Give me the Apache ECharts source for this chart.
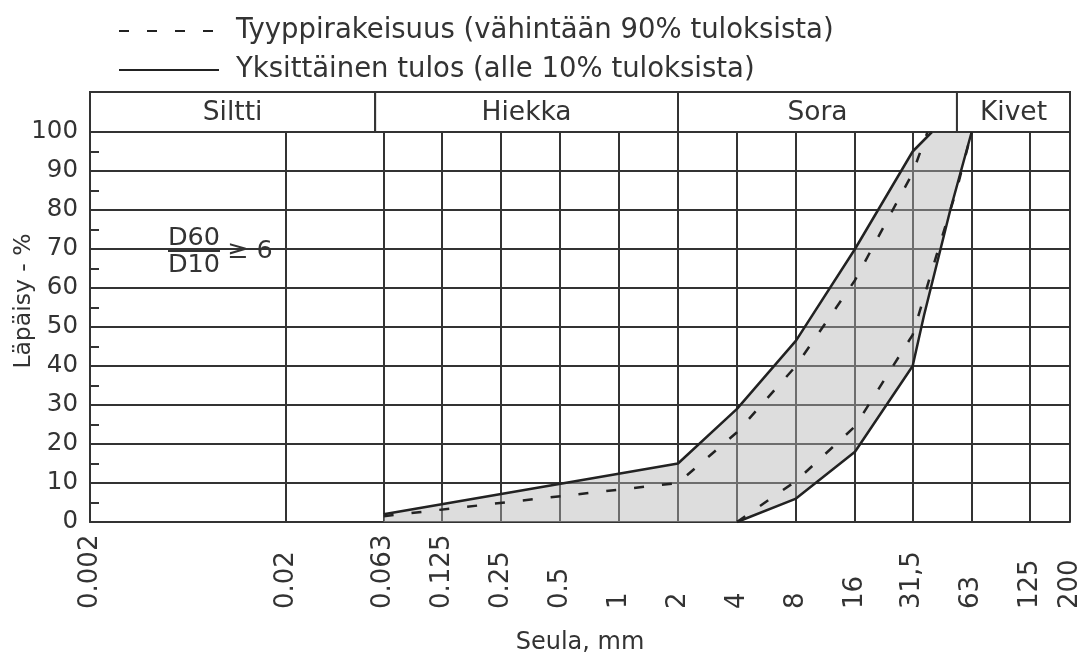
<!DOCTYPE html>
<html>
<head>
<meta charset="utf-8">
<script src="https://cdn.jsdelivr.net/npm/echarts@6/dist/echarts.min.js"></script>
<style>
html, body { margin: 0; padding: 0; background: #fff; }
#main { width: 1078px; height: 654px; }
</style>
</head>
<body>
<div id="main"></div>
<script>
// seulakoot ja niiden tekstit
var sieveMm = [0.002, 0.02, 0.063, 0.125, 0.25, 0.5, 1, 2, 4, 8, 16, 31.5, 63, 125, 200];
var sieveLabels = ['0.002', '0.02', '0.063', '0.125', '0.25', '0.5', '1', '2', '4', '8', '16', '31,5', '63', '125', '200'];

// yläreunan luokat
var headerNames = ['Siltti', 'Hiekka', 'Sora', 'Kivet'];
var headerFrom = [0.002, 0.057, 2, 53];
var headerTo = [0.057, 2, 53, 200];

// yksittäinen tulos, rajakäyrät
var upperSolidMm = [0.063, 2, 4, 8, 16, 31.5, 39.5];
var upperSolidPct = [2, 15, 29, 46.5, 70, 95, 100];
var lowerSolidMm = [4, 8, 16, 31.5, 36, 49, 63];
var lowerSolidPct = [0, 6, 18, 40, 53, 80, 100];

// tyyppirakeisuus, katkoviivat
var upperDashMm = [0.063, 2, 4, 8, 16, 31.5, 37.5];
var upperDashPct = [1.5, 10, 23, 40, 62, 89.5, 100];
var lowerDashMm = [4, 8, 16, 31.5, 43.5, 53, 63];
var lowerDashPct = [0, 10.5, 24.5, 48, 71.5, 85.5, 100];

var dashName = 'Tyyppirakeisuus (vähintään 90% tuloksista)';
var solidName = 'Yksittäinen tulos (alle 10% tuloksista)';

var FONT = 'DejaVu Sans';
var INK = '#333';

function lg(v) { return Math.log2(v); }

function pairs(mm, pct) {
	var out = [];
	for (var i = 0; i < mm.length; i++) out.push([lg(mm[i]), pct[i]]);
	return out;
}

function labelFor(v) {
	for (var i = 0; i < sieveMm.length; i++) {
		if (Math.abs(lg(sieveMm[i]) - v) < 1e-6) return sieveLabels[i];
	}
	return '';
}

// harmaa alue: yläraja eteenpäin, alaraja takaperin, pohja nollassa
var bandPoints = pairs(upperSolidMm, upperSolidPct)
	.concat(pairs(lowerSolidMm, lowerSolidPct).reverse())
	.concat([[lg(upperSolidMm[0]), 0]]);

var tickValues = sieveMm.map(lg);
var xMin = lg(sieveMm[0]);
var xMax = lg(sieveMm[sieveMm.length - 1]);

var chart = echarts.init(document.getElementById('main'));

function lineSeries(name, data, dashed) {
	return {
		name: name,
		type: 'line',
		data: data,
		symbol: 'none',
		silent: true,
		z: 5,
		itemStyle: { color: '#222' },
		lineStyle: {
			color: '#222',
			width: 2.5,
			type: dashed ? [10, 18] : 'solid'
		}
	};
}

var option = {
	animation: false,
	backgroundColor: '#fff',
	textStyle: { fontFamily: FONT },
	legend: {
		data: [dashName, solidName],
		orient: 'vertical',
		left: 113,
		top: 12,
		itemWidth: 100,
		itemHeight: 14,
		itemGap: 11,
		itemStyle: { opacity: 0 },
		textStyle: { fontSize: 27.5, color: INK, fontFamily: FONT, padding: [0, 0, 0, 12] }
	},
	grid: [
		{ left: 90, right: 8, top: 132, bottom: 132, outerBoundsMode: 'none' },
		{ left: 90, right: 8, top: 92, height: 40, outerBoundsMode: 'none' }
	],
	xAxis: [{
		type: 'value',
		gridIndex: 0,
		min: xMin,
		max: xMax,
		name: 'Seula, mm',
		nameLocation: 'middle',
		nameGap: 109,
		nameMoveOverlap: false,
		nameTextStyle: { fontSize: 24, color: INK, fontFamily: FONT },
		axisLine: { show: true, onZero: false, lineStyle: { color: '#333', width: 2 } },
		axisTick: { show: false, customValues: tickValues },
		axisLabel: {
			customValues: tickValues,
			rotate: 90,
			align: 'left',
			verticalAlign: 'middle',
			margin: 87,
			fontSize: 26,
			color: INK,
			fontFamily: FONT,
			formatter: labelFor
		},
		splitLine: { show: true, lineStyle: { color: '#333', width: 2 } }
	}, {
		type: 'value',
		gridIndex: 1,
		min: xMin,
		max: xMax,
		show: false
	}],
	yAxis: [{
		type: 'value',
		gridIndex: 0,
		min: 0,
		max: 100,
		interval: 10,
		name: 'Läpäisy - %',
		nameLocation: 'middle',
		nameGap: 54,
		nameMoveOverlap: false,
		nameTextStyle: { fontSize: 23.5, color: INK, fontFamily: FONT, padding: [0, 0, 0, 52] },
		axisLine: { show: true, onZero: false, lineStyle: { color: '#333', width: 2 } },
		axisTick: { show: true, inside: true, length: 9, lineStyle: { color: '#333', width: 2 } },
		minorTick: { show: true, splitNumber: 2, length: 9, lineStyle: { color: '#333', width: 2 } },
		axisLabel: { margin: 12, fontSize: 24.5, color: INK, fontFamily: FONT },
		splitLine: { show: true, lineStyle: { color: '#333', width: 2 } }
	}, {
		type: 'value',
		gridIndex: 1,
		min: 0,
		max: 1,
		show: false
	}],
	series: [
		{
			type: 'custom',
			xAxisIndex: 0,
			yAxisIndex: 0,
			silent: true,
			z: 1,
			data: bandPoints,
			renderItem: function (params, api) {
				if (params.dataIndex !== 0) return null;
				var pts = bandPoints.map(function (p) { return api.coord(p); });
				return {
					type: 'polygon',
					shape: { points: pts },
					style: { fill: 'rgba(180,180,180,0.45)' }
				};
			}
		},
		lineSeries(solidName, pairs(upperSolidMm, upperSolidPct), false),
		lineSeries(solidName, pairs(lowerSolidMm, lowerSolidPct), false),
		lineSeries(dashName, pairs(upperDashMm, upperDashPct), true),
		lineSeries(dashName, pairs(lowerDashMm, lowerDashPct), true),
		{
			type: 'custom',
			xAxisIndex: 1,
			yAxisIndex: 1,
			silent: true,
			data: headerNames.map(function (n, i) { return [lg(headerFrom[i]), lg(headerTo[i])]; }),
			renderItem: function (params, api) {
				var p0 = api.coord([api.value(0), 1]);
				var p1 = api.coord([api.value(1), 0]);
				return {
					type: 'group',
					children: [{
						type: 'rect',
						shape: { x: p0[0], y: p0[1], width: p1[0] - p0[0], height: p1[1] - p0[1] },
						style: { fill: '#fff', stroke: '#333', lineWidth: 2 }
					}, {
						type: 'text',
						x: (p0[0] + p1[0]) / 2,
						y: (p0[1] + p1[1]) / 2 + 1,
						style: {
							text: headerNames[params.dataIndex],
							align: 'center',
							verticalAlign: 'middle',
							fontSize: 26.5,
							fontFamily: FONT,
							fill: INK
						}
					}]
				};
			}
		}
	],
	graphic: [{
		type: 'group',
		x: 160,
		y: 224,
		z: 100,
		children: [
			{ type: 'rect', shape: { x: 0, y: 0, width: 120, height: 54 }, style: { fill: '#fff' } },
			{ type: 'text', x: 34, y: 14, style: { text: 'D60', align: 'center', verticalAlign: 'middle', fontSize: 25.5, fontFamily: FONT, fill: INK } },
			{ type: 'line', shape: { x1: 8, y1: 27, x2: 60, y2: 27 }, style: { stroke: INK, lineWidth: 2 } },
			{ type: 'text', x: 34, y: 41, style: { text: 'D10', align: 'center', verticalAlign: 'middle', fontSize: 25.5, fontFamily: FONT, fill: INK } },
			{ type: 'text', x: 67, y: 27, style: { text: '≥ 6', align: 'left', verticalAlign: 'middle', fontSize: 25.5, fontFamily: FONT, fill: INK } }
		]
	}]
};

chart.setOption(option);
</script>
</body>
</html>
